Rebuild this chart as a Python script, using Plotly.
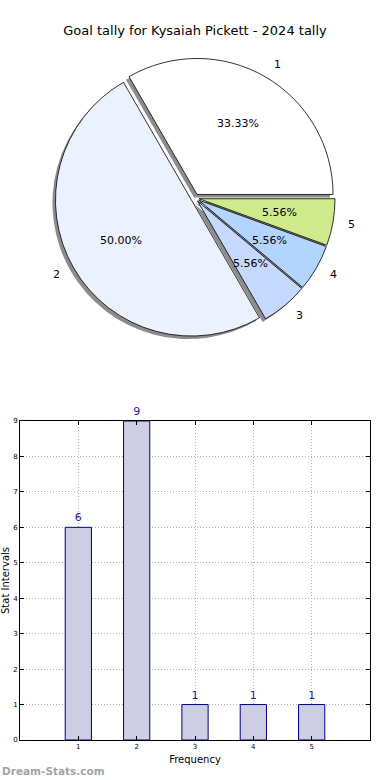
import math
import plotly.graph_objects as go

# Data
pie_labels = ["1", "2", "3", "4", "5"]
pie_values = [6, 9, 1, 1, 1]
pie_colors = ["#ffffff", "#ebf1fe", "#c5d8fe", "#b3d4fe", "#cfea8a"]

bar_x = [1, 2, 3, 4, 5]
bar_y = [6, 9, 1, 1, 1]
y_ticks = list(range(0, 10))

title_text = "Goal tally for Kysaiah Pickett - 2024 tally"
font_family = "DejaVu Sans"

W, H = 390, 780
ML, MR, MT, MB = 20, 20, 0, 40
PW, PH = W - ML - MR, H - MT - MB

def fx(px):
    return (px - ML) / PW

def fy(py):
    return (H - MB - py) / PH

pull = 0.03
cx, cy, r = 195, 198, 136
half = r * (1 + pull)
dom_x = [fx(cx - half), fx(cx + half)]
dom_y = [fy(cy + half), fy(cy - half)]
sx, sy = -3, 3
sdom_x = [fx(cx - half + sx), fx(cx + half + sx)]
sdom_y = [fy(cy + half + sy), fy(cy - half + sy)]

rot = -30

fig = go.Figure()

# shadow pie
fig.add_trace(go.Pie(
    labels=pie_labels, values=pie_values, sort=False, direction="counterclockwise",
    rotation=rot, pull=[pull] * 5, domain=dict(x=sdom_x, y=sdom_y),
    marker=dict(colors=["rgba(120,120,120,0.85)"] * 5, line=dict(width=0)),
    textinfo="none", hoverinfo="skip", showlegend=False,
))

# main pie
fig.add_trace(go.Pie(
    labels=pie_labels, values=pie_values, sort=False, direction="counterclockwise",
    rotation=rot, pull=[pull] * 5, domain=dict(x=dom_x, y=dom_y),
    marker=dict(colors=pie_colors, line=dict(color="black", width=0.8)),
    textinfo="none", showlegend=False,
))

# pie labels (matplotlib-style: percent at 0.6 r, label at 1.1 r)
annotations = []
total = sum(pie_values)
start = 0.0
for lab, v in zip(pie_labels, pie_values):
    frac = v / total
    mid = math.radians(start + frac * 360 / 2)
    start += frac * 360
    ox, oy = cx + pull * r * math.cos(mid), cy - pull * r * math.sin(mid)
    px_, py_ = ox + 0.6 * r * math.cos(mid), oy - 0.6 * r * math.sin(mid)
    annotations.append(dict(text=f"{frac * 100:.2f}%", xref="paper", yref="paper",
                            x=fx(px_), y=fy(py_), xanchor="center", yanchor="middle",
                            showarrow=False,
                            font=dict(family=font_family, size=11, color="black")))
    lx, ly = ox + 1.1 * r * math.cos(mid), oy - 1.1 * r * math.sin(mid)
    annotations.append(dict(text=lab, xref="paper", yref="paper",
                            x=fx(lx), y=fy(ly),
                            xanchor="left" if math.cos(mid) > 0 else "right", yanchor="middle",
                            showarrow=False,
                            font=dict(family=font_family, size=11, color="black")))

fig.add_trace(go.Bar(
    x=bar_x, y=bar_y, width=0.45,
    marker=dict(color="#cdcde3", line=dict(color="#000080", width=1)),
    text=[str(v) for v in bar_y], textposition="outside", cliponaxis=False,
    textfont=dict(family=font_family, size=11, color="#1a1aa0"),
    showlegend=False,
))

axis_common = dict(
    showline=True, linecolor="black", linewidth=1, mirror="allticks",
    ticks="inside", ticklen=4, tickcolor="black",
    showgrid=True, gridcolor="#b0b0b0", griddash="1px,2px", gridwidth=1,
    tickfont=dict(family=font_family, size=7, color="black"),
    zeroline=False, automargin=False,
)

annotations.append(dict(text="<b>Dream-Stats.com</b>", xref="paper", yref="paper",
                        x=fx(0), y=fy(771), xanchor="left", yanchor="middle", showarrow=False,
                        font=dict(family=font_family, size=10.5, color="#a4a4a4")))

fig.update_layout(
    width=W, height=H,
    margin=dict(l=ML, r=MR, t=MT, b=MB),
    paper_bgcolor="white", plot_bgcolor="white",
    font=dict(family=font_family),
    title=dict(text=title_text, x=0.5, xanchor="center", y=1 - 30 / H, yanchor="middle",
               font=dict(family=font_family, size=13, color="black")),
    xaxis=dict(range=[0, 6], tickvals=bar_x, domain=[0, 1],
               title=dict(text="Frequency", font=dict(family=font_family, size=10, color="black"), standoff=5),
               **axis_common),
    yaxis=dict(range=[0, 9], tickvals=y_ticks, domain=[0, fy(421)],
               title=dict(text="Stat Intervals", font=dict(family=font_family, size=10, color="black"), standoff=2),
               **axis_common),
    annotations=annotations,
)

fig.write_html("out.html", config={"displayModeBar": False},
               post_script="document.body.style.margin='0';")
